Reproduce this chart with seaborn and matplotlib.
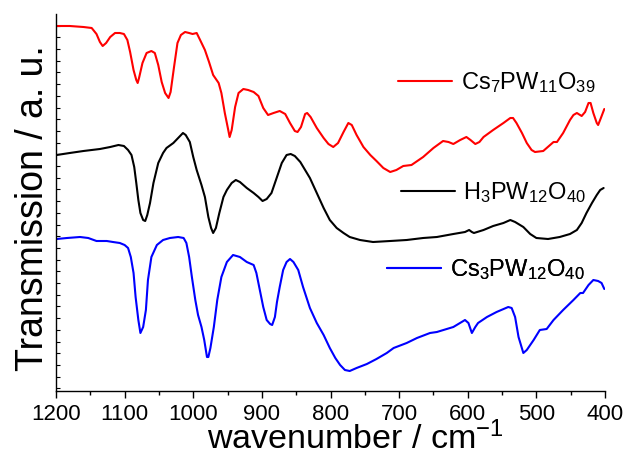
import pandas as pd
import seaborn as sns
import matplotlib.pyplot as plt
from matplotlib.ticker import MultipleLocator, NullFormatter

# wavenumber (cm-1) and transmission (arbitrary units)
wn_cs7 = [1199, 1180, 1160, 1148, 1141, 1136, 1132, 1127, 1121, 1114, 1107, 1101, 1096,
          1092, 1087, 1083, 1081, 1079, 1074, 1068, 1061, 1056, 1051, 1046, 1041, 1036,
          1033, 1028, 1023, 1018, 1012, 1006, 1001, 995, 990, 983, 977, 971, 963, 959,
          954, 949, 947, 944, 939, 934, 927, 920, 912, 905, 898, 891, 883, 874, 866,
          859, 852, 848, 843, 837, 834, 829, 820, 810, 803, 796, 789, 781, 774, 769,
          762, 752, 742, 733, 723, 713, 704, 694, 682, 665, 650, 636, 628, 621, 611,
          602, 596, 589, 583, 577, 563, 548, 538, 534, 529, 521, 514, 507, 502, 490,
          480, 475, 470, 461, 451, 446, 441, 434, 429, 424, 421, 417, 412, 410, 406, 401]
tr_cs7 = [374, 374, 373, 372, 366, 358, 354, 357, 363, 367, 367, 366, 360,
          348, 330, 320, 317, 322, 337, 347, 349, 347, 335, 318, 307, 302,
          308, 333, 357, 365, 368, 367, 366, 367, 360, 350, 338, 325, 317, 307,
          287, 270, 263, 270, 293, 307, 311, 310, 308, 304, 292, 285, 287, 289, 286,
          277, 269, 268, 273, 286, 287, 283, 272, 262, 256, 253, 257, 268, 277, 275,
          265, 253, 245, 239, 232, 228, 230, 234, 235, 243, 252, 259, 258, 256, 260,
          263, 260, 256, 258, 263, 270, 277, 282, 282, 277, 267, 257, 250, 248, 249,
          255, 258, 258, 267, 280, 285, 287, 284, 288, 297, 297, 287, 277, 275, 282, 291]

wn_h3 = [1199, 1180, 1160, 1136, 1121, 1109, 1101, 1095, 1090, 1086, 1083, 1080, 1077,
         1073, 1070, 1067, 1063, 1058, 1051, 1044, 1039, 1029, 1022, 1015, 1011, 1005,
         1000, 995, 988, 983, 978, 974, 971, 967, 962, 956, 951, 944, 938, 932, 922,
         912, 905, 899, 893, 886, 878, 871, 864, 858, 852, 844, 837, 830, 820, 810,
         801, 791, 781, 772, 757, 738, 713, 689, 665, 645, 621, 604, 598, 594, 591,
         577, 563, 548, 538, 531, 519, 509, 500, 483, 466, 451, 441, 434, 427, 419,
         412, 407, 402]
tr_h3 = [245, 247, 249, 251, 253, 255, 254, 250, 245, 233, 217, 200, 187,
         180, 179, 185, 197, 217, 237, 247, 252, 257, 262, 267, 265, 258,
         243, 230, 215, 203, 183, 172, 167, 172, 187, 203, 210, 217, 220, 218, 212,
         207, 203, 199, 201, 207, 223, 237, 245, 246, 244, 238, 230, 222, 207, 192,
         180, 172, 167, 163, 160, 158, 159, 160, 162, 163, 166, 168, 170, 168, 167,
         170, 174, 177, 180, 178, 173, 166, 162, 161, 163, 166, 170, 177, 187, 197,
         205, 210, 212]

wn_cs3 = [1199, 1184, 1165, 1153, 1141, 1126, 1117, 1107, 1100, 1095, 1091, 1087, 1084,
          1080, 1077, 1073, 1069, 1066, 1061, 1053, 1044, 1034, 1022, 1014, 1010, 1006,
          1002, 997, 993, 988, 984, 980, 978, 975, 970, 965, 959, 951, 942, 932, 922,
          912, 908, 903, 898, 893, 888, 885, 881, 878, 874, 869, 864, 859, 854, 847,
          840, 830, 820, 810, 801, 793, 786, 779, 772, 762, 747, 733, 718, 708, 689,
          674, 655, 645, 621, 604, 599, 594, 589, 585, 572, 558, 541, 536, 531, 526,
          519, 514, 504, 495, 485, 475, 461, 446, 436, 432, 424, 417, 410, 405, 401]
tr_cs3 = [161, 162, 163, 162, 159, 159, 158, 157, 155, 152, 143, 127, 103,
          80, 67, 73, 90, 120, 143, 155, 160, 162, 163, 162, 157, 143,
          123, 100, 85, 73, 60, 43, 43, 52, 73, 100, 123, 138, 145, 143, 138,
          135, 127, 110, 93, 80, 76, 75, 83, 98, 113, 130, 138, 141, 138, 130,
          113, 92, 77, 65, 52, 42, 35, 30, 29, 32, 36, 41, 47, 52, 57,
          62, 67, 68, 73, 80, 77, 67, 73, 77, 83, 88, 93, 92, 83, 63,
          47, 50, 60, 70, 71, 80, 90, 100, 107, 107, 115, 120, 119, 117, 111]

labels = [r"Cs$_7$PW$_{11}$O$_{39}$", r"H$_3$PW$_{12}$O$_{40}$", r"Cs$_3$PW$_{12}$O$_{40}$"]
colors = ["#ff0000", "#000000", "#0000ff"]

df = pd.concat([
    pd.DataFrame({"wavenumber": wn_cs7, "transmission": tr_cs7, "sample": labels[0]}),
    pd.DataFrame({"wavenumber": wn_h3, "transmission": tr_h3, "sample": labels[1]}),
    pd.DataFrame({"wavenumber": wn_cs3, "transmission": tr_cs3, "sample": labels[2]}),
])

sns.set_style("ticks")
plt.rcParams["font.family"] = ["Liberation Sans", "DejaVu Sans"]
plt.rcParams["mathtext.fontset"] = "custom"
plt.rcParams["mathtext.rm"] = "Liberation Sans"
plt.rcParams["mathtext.it"] = "Liberation Sans"
plt.rcParams["text.color"] = "black"
plt.rcParams["axes.labelcolor"] = "black"

fig = plt.figure(figsize=(6.26, 4.57), dpi=100)
ax = fig.add_axes([56 / 626, 1 - 391 / 457, 549 / 626, 377 / 457])

sns.lineplot(data=df, x="wavenumber", y="transmission", hue="sample",
             palette=dict(zip(labels, colors)), estimator=None, sort=False,
             legend=False, lw=1.5, ax=ax)

ax.set_xlim(1200, 400)
ax.set_ylim(9, 386)
ax.xaxis.set_major_locator(MultipleLocator(100))
ax.xaxis.set_minor_locator(MultipleLocator(50))
ax.yaxis.set_major_locator(MultipleLocator(23.4))
ax.yaxis.set_minor_locator(MultipleLocator(11.7))
ax.yaxis.set_major_formatter(NullFormatter())
ax.tick_params(axis="x", which="major", direction="out", length=5, width=1,
               labelsize=16, colors="black", pad=4)
ax.tick_params(axis="x", which="minor", direction="out", length=3, width=1, colors="black")
ax.tick_params(axis="y", which="both", direction="in", length=3, width=0.8, left=True,
               colors="black")
for s in ["top", "right"]:
    ax.spines[s].set_visible(False)
for s in ["left", "bottom"]:
    ax.spines[s].set_color("black")
    ax.spines[s].set_linewidth(1)

ax.set_xlabel(r"wavenumber / cm$^{-1}$", fontsize=24.5, va="baseline")
ax.xaxis.set_label_coords(0.545, -0.154)
ax.set_ylabel("Transmission / a. u.", fontsize=27)
ax.yaxis.set_label_coords(-0.010, 0.485)

# individually placed legend entries, as in the original
lines = ax.get_lines()
spots = [(0.623, 0.818), (0.628, 0.526), (0.603, 0.321)]
for ln, lab, (lx, ly) in zip(lines, labels, spots):
    leg = ax.legend([ln], [lab], loc="center left", bbox_to_anchor=(lx, ly),
                    frameon=False, fontsize=17, handlelength=2.3,
                    handletextpad=0.35, borderpad=0, borderaxespad=0)
    ax.add_artist(leg)

fig.savefig("out.png", dpi=100)
